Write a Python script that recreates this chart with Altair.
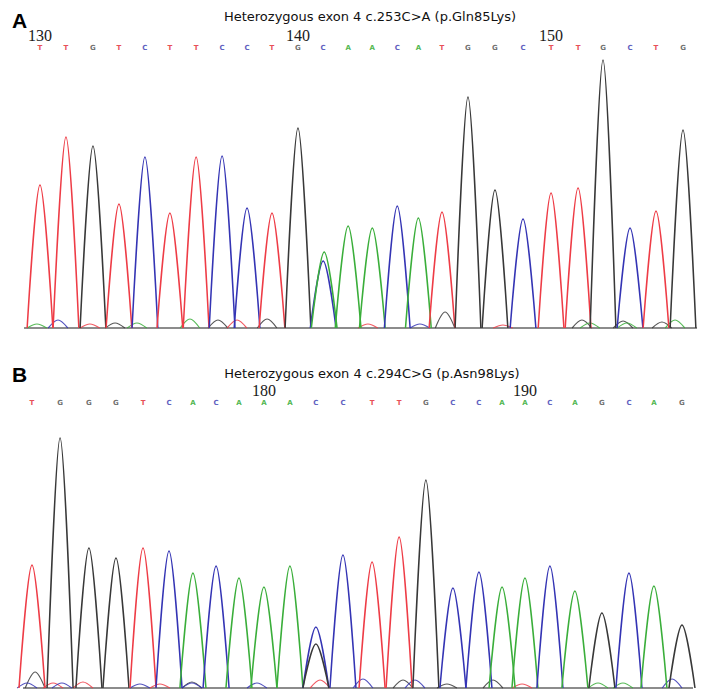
import altair as alt
import pandas as pd

# ---------------- Panel A: exon 4 c.253C>A ----------------
A_HEADING = "Heterozygous exon 4 c.253C>A (p.Gln85Lys)"
A_BASES = list("TTGTCTTCCTGCAACATGGCTTGCTG")
A_POS = [130.00, 131.01, 132.06, 133.07, 134.08, 135.05, 136.07, 137.08, 138.05,
         139.02, 140.03, 141.01, 141.98, 142.92, 143.89, 144.71, 145.63, 146.64,
         147.69, 148.78, 149.87, 150.92, 151.89, 152.94, 153.95, 155.00]
A_HEIGHT = [143, 191, 182, 124, 171, 115, 171, 172, 120, 115, 200, 67, 102, 100,
            122, 110, 116, 231, 138, 109, 135, 140, 268, 100, 117, 198]
A_HET_BASE = ["A"]
A_HET_POS = [141.05]
A_HET_H = [76]
A_MINOR_BASE = ["C", "A", "T", "G", "A", "A", "G", "T", "G", "T", "C", "G", "T",
                "G", "A", "G", "A", "G", "A"]
A_MINOR_POS = [130.70, 129.88, 131.94, 132.92, 133.77, 135.83, 136.92, 137.66,
               138.83, 142.75, 144.77, 145.75, 148.00, 151.07, 151.38, 152.67,
               152.82, 154.18, 154.69]
A_MINOR_H = [8, 4, 4, 5, 5, 9, 8, 8, 9, 4, 4, 16, 3, 8, 5, 7, 5, 6, 8]
A_TICK_POS = [130.00, 140.03, 149.87]
A_TICK_LAB = ["130", "140", "150"]
A_TRACE_RANGE = [129.38, 155.545]

# ---------------- Panel B: exon 4 c.294C>G ----------------
B_HEADING = "Heterozygous exon 4 c.294C>G (p.Asn98Lys)"
B_BASES = list("TGGGTCACAAACCTTGCCAACAGCAG")
B_POS = [171.00, 172.08, 173.19, 174.23, 175.27, 176.27, 177.19, 178.08, 178.96,
         179.92, 180.92, 181.92, 182.96, 184.08, 185.12, 186.15, 187.19, 188.19,
         189.08, 189.96, 190.92, 191.88, 192.92, 193.96, 194.92, 196.00]
B_HEIGHT = [123, 250, 140, 130, 140, 137, 115, 122, 110, 101, 122, 61, 133, 126,
            151, 208, 100, 116, 101, 110, 122, 97, 75, 115, 102, 63]
B_HET_BASE = ["G"]
B_HET_POS = [181.92]
B_HET_H = [44]
B_MINOR_BASE = ["G", "C", "T", "C", "T", "C", "T", "G", "C", "C", "T", "C", "G",
                "C", "G", "G", "T", "A", "A", "C"]
B_MINOR_POS = [171.12, 170.81, 171.81, 172.15, 172.96, 175.15, 175.92, 177.15,
               177.15, 179.65, 182.08, 183.73, 185.27, 185.73, 186.96, 188.73,
               189.85, 192.77, 193.73, 195.62]
B_MINOR_H = [16, 5, 5, 5, 6, 4, 4, 6, 5, 5, 8, 9, 8, 8, 4, 8, 4, 5, 5, 9]
B_TICK_POS = [179.92, 189.96]
B_TICK_LAB = ["180", "190"]
B_TRACE_RANGE = [170.654, 196.423]

BASE_ORDER = ["A", "C", "G", "T"]
BASE_COLORS = ["#3aae3a", "#3434b4", "#383838", "#ee3c46"]
LETTER_COLORS = ["#52b852", "#6060c0", "#707070", "#e85058"]

W = 697


def peaks_table(bases, pos, heights, hw, prefix):
    rows = []
    for i, (b, p, h) in enumerate(zip(bases, pos, heights)):
        for dx, yy in ((-hw, 0), (0, h), (hw, 0)):
            rows.append({"pid": f"{prefix}{i}", "base": b, "x": p + dx, "y": yy})
    return pd.DataFrame(rows)


def panel(label, heading, bases, pos, heights, het_b, het_p, het_h,
          mb, mp, mh, tick_pos, tick_lab, trace_range, xdom, ydom, height,
          y_head, y_lab, y_num, y_let, x_head):
    xs = alt.Scale(domain=xdom, nice=False, zero=False)
    ys = alt.Scale(domain=ydom, nice=False, zero=False)
    cs = alt.Scale(domain=BASE_ORDER, range=BASE_COLORS)
    ls = alt.Scale(domain=BASE_ORDER, range=LETTER_COLORS)

    rule = alt.Chart(pd.DataFrame({"x": [trace_range[0]], "x2": [trace_range[1]], "y": [0]})).mark_rule(
        color="#8c8c8c", strokeWidth=2
    ).encode(
        x=alt.X("x:Q", scale=xs, axis=None),
        x2="x2:Q",
        y=alt.Y("y:Q", scale=ys, axis=None),
    )

    minor = alt.Chart(peaks_table(mb, mp, mh, 0.38, "m")).mark_line(
        interpolate="cardinal", strokeWidth=1.2, opacity=0.85
    ).encode(
        x=alt.X("x:Q", scale=xs, axis=None),
        y=alt.Y("y:Q", scale=ys, axis=None),
        color=alt.Color("base:N", scale=cs, legend=None),
        detail="pid:N",
    )

    main_df = pd.concat([peaks_table(bases, pos, heights, 0.5, "p"),
                         peaks_table(het_b, het_p, het_h, 0.5, "h")])
    main = alt.Chart(main_df).mark_line(
        interpolate="cardinal", strokeWidth=1.5
    ).encode(
        x=alt.X("x:Q", scale=xs, axis=None),
        y=alt.Y("y:Q", scale=ys, axis=None),
        color=alt.Color("base:N", scale=cs, legend=None),
        detail="pid:N",
    )

    letters = alt.Chart(pd.DataFrame({"base": bases, "pos": pos})).mark_text(
        font="DejaVu Sans", fontSize=7, fontWeight="bold"
    ).encode(
        x=alt.X("pos:Q", scale=xs, axis=None),
        y=alt.value(y_let),
        text="base:N",
        color=alt.Color("base:N", scale=ls, legend=None),
    )

    nums = alt.Chart(pd.DataFrame({"pos": tick_pos, "lab": tick_lab})).mark_text(
        font="Liberation Serif", fontSize=16, color="#1a1a1a", baseline="alphabetic"
    ).encode(
        x=alt.X("pos:Q", scale=xs, axis=None),
        y=alt.value(y_num),
        text="lab:N",
    )

    head = alt.Chart(pd.DataFrame({"t": [heading]})).mark_text(
        font="DejaVu Sans", fontSize=13, color="#111111"
    ).encode(x=alt.value(x_head), y=alt.value(y_head), text="t:N")

    lab = alt.Chart(pd.DataFrame({"t": [label]})).mark_text(
        font="Liberation Sans", fontSize=21, fontWeight="bold", align="left", color="#000000"
    ).encode(x=alt.value(4), y=alt.value(y_lab), text="t:N")

    return alt.layer(rule, minor, main, letters, nums, head, lab).properties(
        width=W, height=height
    ).resolve_scale(color="independent")


pa = panel("A", A_HEADING, A_BASES, A_POS, A_HEIGHT, A_HET_BASE, A_HET_POS, A_HET_H,
           A_MINOR_BASE, A_MINOR_POS, A_MINOR_H, A_TICK_POS, A_TICK_LAB, A_TRACE_RANGE,
           [128.756, 155.855], [-7, 320], 327,
           y_head=9, y_lab=14, y_num=33, y_let=40, x_head=362)

pb = panel("B", B_HEADING, B_BASES, B_POS, B_HEIGHT, B_HET_BASE, B_HET_POS, B_HET_H,
           B_MINOR_BASE, B_MINOR_POS, B_MINOR_H, B_TICK_POS, B_TICK_LAB, B_TRACE_RANGE,
           [170.077, 196.885], [-2, 333], 335,
           y_head=19, y_lab=21, y_num=41, y_let=48, x_head=364)

chart = alt.vconcat(pa, pb, spacing=20).properties(padding=0).configure_view(stroke=None)

chart.save("out.html", embed_options={"renderer": "svg", "actions": False})
